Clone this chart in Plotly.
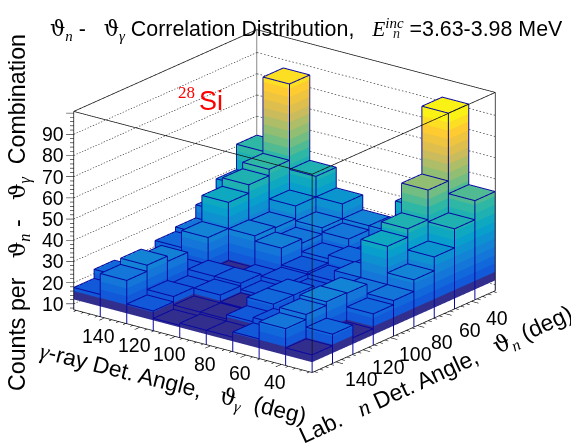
import plotly.graph_objects as go

gamma_angles = [150, 135, 120, 105, 90, 75, 60, 45, 30]
neutron_angles = [150, 135, 120, 105, 90, 75, 60, 45, 30]
# counts[n index][gamma index]
counts_n150 = [17.7, 27.6, 16.5, 13.0, 14.0, 14.0, 16.5, 24.6, 15.5]
counts_n135 = [22.0, 30.5, 19.0, 15.0, 15.0, 17.0, 19.0, 27.0, 21.0]
counts_n120 = [20.0, 28.0, 17.0, 18.7, 15.5, 21.0, 17.0, 28.7, 15.0]
counts_n105 = [18.0, 18.0, 20.0, 20.0, 17.0, 21.0, 17.0, 28.4, 22.0]
counts_n90 = [22.7, 30.7, 15.5, 17.0, 19.0, 17.0, 18.0, 24.0, 24.0]
counts_n75 = [24.8, 43.0, 30.5, 28.0, 20.0, 19.0, 24.0, 42.0, 29.5]
counts_n60 = [31.0, 47.0, 30.0, 26.0, 22.0, 23.7, 20.0, 46.0, 36.0]
counts_n45 = [39.0, 50.0, 36.0, 29.0, 27.0, 21.0, 21.0, 60.0, 45.0]
counts_n30 = [51.0, 86.0, 45.7, 36.0, 29.0, 29.0, 44.0, 92.0, 54.0]
counts = [counts_n150, counts_n135, counts_n120, counts_n105, counts_n90,
          counts_n75, counts_n60, counts_n45, counts_n30]
z_ticks = [10, 20, 30, 40, 50, 60, 70, 80, 90]
angle_ticks = [140, 120, 100, 80, 60, 40]

HALF = 7.5
INSET = 0.15
A_HI, A_LO = 157.5, 22.5
Z_FLOOR, Z_TOP = 7.2, 100.8
Z_BASE = 12.0
Z_MAX = 92.0
LEVELS = 20

bird = [(0.2082, 0.1664, 0.5293), (0.0592, 0.3599, 0.8684), (0.0780, 0.5041, 0.8385),
        (0.0232, 0.6419, 0.7914), (0.1802, 0.7178, 0.6425), (0.5301, 0.7492, 0.4662),
        (0.8186, 0.7328, 0.3499), (0.9956, 0.7862, 0.1968), (0.9764, 0.9832, 0.0539)]


def bird_at(t):
    p = t * (len(bird) - 1)
    k = min(int(p), len(bird) - 2)
    f = p - k
    r, g, b = [bird[k][c] * (1 - f) + bird[k + 1][c] * f for c in range(3)]
    return f"rgb({r*255:.0f},{g*255:.0f},{b*255:.0f})"


colorscale = []
for k in range(LEVELS):
    col = bird_at(0.01 if k == 0 else (k + 1.5) / (LEVELS + 1))
    colorscale += [[k / LEVELS, col], [(k + 1) / LEVELS, col]]

vx, vy, vz, vi, fi, fj, fk = [], [], [], [], [], [], []
ex, ey, ez = [], [], []
faces = [(0, 1, 2), (0, 2, 3), (0, 1, 5), (0, 5, 4), (1, 2, 6), (1, 6, 5),
         (2, 3, 7), (2, 7, 6), (3, 0, 4), (3, 4, 7), (4, 5, 6), (4, 6, 7)]
for jn, row in enumerate(counts):
    for ig, h in enumerate(row):
        g, n = gamma_angles[ig], neutron_angles[jn]
        xs = [g + HALF, g - HALF, g - HALF, g + HALF]
        ys = [n + HALF, n + HALF, n - HALF, n - HALF]
        mx = [g + HALF - INSET, g - HALF + INSET, g - HALF + INSET, g + HALF - INSET]
        my = [n + HALF - INSET, n + HALF - INSET, n - HALF + INSET, n - HALF + INSET]
        base = len(vx)
        for zv, zc in ((Z_BASE, Z_BASE), (h - 0.2, h)):
            for a, b in zip(mx, my):
                vx.append(a); vy.append(b); vz.append(zv); vi.append(zc)
        for a, b, c in faces:
            fi.append(base + a); fj.append(base + b); fk.append(base + c)
        for q in range(4):
            q2 = (q + 1) % 4
            ex += [xs[q], xs[q2], None]; ey += [ys[q], ys[q2], None]; ez += [h, h, None]
            ex += [xs[q], xs[q], None]; ey += [ys[q], ys[q], None]; ez += [Z_FLOOR, h, None]

fig = go.Figure()
fig.add_trace(go.Mesh3d(x=vx, y=vy, z=vz, i=fi, j=fj, k=fk, intensity=vi, intensitymode="vertex",
                        colorscale=colorscale, cmin=Z_BASE, cmax=Z_MAX, showscale=False, flatshading=False,
                        lighting=dict(ambient=1, diffuse=0, specular=0, fresnel=0, roughness=1),
                        hoverinfo="skip"))
fig.add_trace(go.Scatter3d(x=ex, y=ey, z=ez, mode="lines", line=dict(color="#0808a0", width=2),
                           hoverinfo="skip", showlegend=False))

# dotted grid on back walls, drawn as short segments
gx, gy, gz = [], [], []
DOT_STEP, DOT_LEN = 2.0, 0.9
for t in z_ticks:
    s = A_LO
    while s < A_HI:
        gx += [A_HI, A_HI, None]; gy += [s, s + DOT_LEN, None]; gz += [t, t, None]
        gx += [s, s + DOT_LEN, None]; gy += [A_LO, A_LO, None]; gz += [t, t, None]
        s += DOT_STEP
fig.add_trace(go.Scatter3d(x=gx, y=gy, z=gz, mode="lines", line=dict(color="#333333", width=1.3),
                           hoverinfo="skip", showlegend=False))

# box frame
fx = [A_HI, A_LO, A_LO, A_HI, A_HI, None, A_LO, A_LO, None, A_HI, A_HI, None, A_LO, A_LO, None,
      A_HI, A_LO, A_LO, None]
fy = [A_HI, A_HI, A_LO, A_LO, A_HI, None, A_HI, A_HI, None, A_HI, A_HI, None, A_LO, A_LO, None,
      A_HI, A_HI, A_LO, None]
fz = [Z_TOP, Z_TOP, Z_TOP, Z_TOP, Z_TOP, None, Z_FLOOR, Z_TOP, None, Z_FLOOR, Z_TOP, None, Z_FLOOR, Z_TOP, None,
      Z_FLOOR, Z_FLOOR, Z_FLOOR, None]
fig.add_trace(go.Scatter3d(x=fx, y=fy, z=fz, mode="lines", line=dict(color="#111111", width=1.5),
                           hoverinfo="skip", showlegend=False))
fig.add_trace(go.Scatter3d(x=[A_HI, A_HI], y=[A_LO, A_LO], z=[Z_FLOOR, Z_TOP], mode="lines",
                           line=dict(color="#888888", width=2), hoverinfo="skip", showlegend=False))

# tick marks
tx, ty, tz = [], [], []
for v in range(24, 157, 4):
    L = 4.0 if v % 20 == 0 else 2.0
    tx += [v, v, None]; ty += [A_HI, A_HI + L, None]; tz += [Z_FLOOR, Z_FLOOR, None]
    tx += [A_LO, A_LO - L, None]; ty += [v, v, None]; tz += [Z_FLOOR, Z_FLOOR, None]
for v in range(8, 101, 2):
    L = 3.4 if v % 10 == 0 else 1.7
    tx += [A_HI, A_HI + L * 0.793, None]; ty += [A_HI, A_HI + L * 0.609, None]; tz += [v, v, None]
fig.add_trace(go.Scatter3d(x=tx, y=ty, z=tz, mode="lines", line=dict(color="#111111", width=1.2),
                           hoverinfo="skip", showlegend=False))

tick_font = dict(family="Liberation Sans", size=19.5, color="black")
scene_ann = []
for t in z_ticks:
    scene_ann.append(dict(x=A_HI + 3, y=A_HI + 2.3, z=t, text=str(t), showarrow=False,
                          xanchor="right", yanchor="middle", xshift=1, font=tick_font))
for t in angle_ticks:
    scene_ann.append(dict(x=t, y=A_HI + 8, z=Z_FLOOR, text=str(t), showarrow=False,
                          xanchor="center", yanchor="top", xshift=5, font=tick_font))
    scene_ann.append(dict(x=A_LO - 8, y=t, z=Z_FLOOR, text=str(t), showarrow=False,
                          xanchor="center", yanchor="top", xshift=11, font=tick_font))

SER = "font-family:'DejaVu Serif'"
LIB = "font-family:'Liberation Serif'"


def th(sub):
    return f"<span style=\"{SER}\">ϑ</span><sub><span style=\"{LIB}\"><i>{sub}</i></span></sub>"


W, H = 579, 444


def paper(px, py, text, size, angle=0, color="black", family="Liberation Sans"):
    return dict(xref="paper", yref="paper", x=px / W, y=1 - py / H, text=text, showarrow=False, textangle=angle,
                xanchor="center", yanchor="middle", font=dict(family=family, size=size, color=color))


annotations = [
    paper(10, 205, f"Counts per   {th('n')} -   {th('γ')}  Combination", 23.2, -90),
    paper(165, 377, f"<span style=\"{LIB}\"><i>γ</i></span>-ray Det. Angle,   {th('γ')}  (deg)", 22.8, 14),
    paper(428, 367, f"Lab.   <span style=\"{LIB}\"><i>n</i></span> Det. Angle,   {th('n')} (deg)", 23, -24.8),
    paper(178, 84, "28", 17, 0, "#ff0000", "Liberation Serif"),
    paper(203, 93, "Si", 27, 0, "#ff0000"),
    paper(388, 26, "<i>n</i>", 14, 0, "#222222", "Liberation Serif"),
]

SCALE = 1.7725
fig.update_layout(
    width=W, height=H, paper_bgcolor="white", showlegend=False,
    margin=dict(l=0, r=0, t=0, b=0),
    title=dict(text=f"{th('n')} -   {th('γ')} Correlation Distribution,   "
                    f"<span style=\"{LIB}\"><i>E</i><sup><i>inc</i></sup></span> =3.63-3.98 MeV",
               x=42 / W, xanchor="left", y=1 - 21 / H, yanchor="middle",
               font=dict(family="Liberation Sans", size=21.4, color="black")),
    annotations=annotations,
    scene=dict(
        domain=dict(x=[0, 553 / W], y=[42 / H, 1]),
        xaxis=dict(range=[170, 10], visible=False),
        yaxis=dict(range=[170, 10], visible=False),
        zaxis=dict(range=[5, 103], visible=False),
        aspectmode="manual", aspectratio=dict(x=SCALE, y=SCALE, z=0.6204 * SCALE),
        bgcolor="white",
        camera=dict(projection=dict(type="orthographic"), up=dict(x=0, y=0, z=1),
                    center=dict(x=0, y=0, z=-0.042),
                    eye=dict(x=0.572 * 3, y=-0.745 * 3, z=0.343 * 3 - 0.042)),
        annotations=scene_ann,
    ),
)
fig.write_html("out.html", config=dict(displayModeBar=False))
